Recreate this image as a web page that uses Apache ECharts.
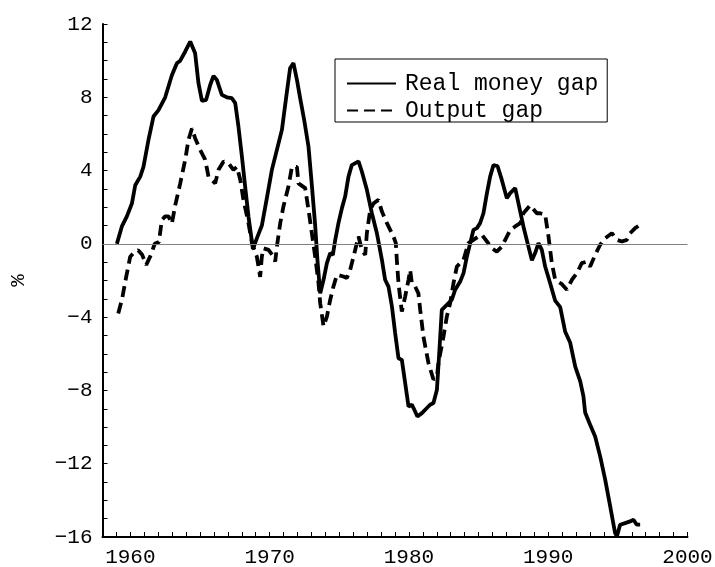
<!DOCTYPE html>
<html>
<head>
<meta charset="utf-8">
<script src="https://cdn.jsdelivr.net/npm/echarts@6/dist/echarts.min.js"></script>
<style>
html,body{margin:0;padding:0;background:#fff;}
#chart{width:715px;height:567px;}
</style>
</head>
<body>
<div id="chart"></div>
<script>
// ---- data (year, percent) ----
const seriesNames = ['Real money gap', 'Output gap'];
const yTickValues = [-16, -12, -8, -4, 0, 4, 8, 12];
const xTickLabels = [1960, 1970, 1980, 1990, 2000];

const realMoneyYears = [1959.03,1959.39,1959.75,1960.11,1960.35,1960.71,1960.94,1961.30,1961.66,1962.02,1962.50,1962.98,1963.34,1963.58,1963.94,1964.30,1964.65,1964.89,1965.14,1965.44,1965.73,1965.97,1966.21,1966.57,1966.93,1967.29,1967.53,1967.76,1968.01,1968.24,1968.48,1968.80,1969.08,1969.44,1969.80,1970.16,1970.52,1970.88,1971.24,1971.47,1971.71,1971.96,1972.19,1972.48,1972.79,1973.03,1973.27,1973.43,1973.63,1973.87,1974.11,1974.35,1974.54,1974.71,1974.94,1975.19,1975.42,1975.66,1975.90,1976.38,1976.62,1976.98,1977.34,1977.70,1978.06,1978.29,1978.53,1978.78,1979.01,1979.25,1979.49,1979.73,1979.97,1980.21,1980.33,1980.61,1980.93,1981.29,1981.52,1981.76,1982.01,1982.19,1982.36,1982.72,1983.08,1983.32,1983.68,1983.92,1984.16,1984.40,1984.63,1984.88,1985.11,1985.35,1985.60,1985.83,1986.07,1986.36,1986.67,1987.03,1987.27,1987.63,1987.86,1988.22,1988.58,1988.83,1989.06,1989.30,1989.54,1989.78,1990.14,1990.50,1990.86,1991.22,1991.58,1991.94,1992.30,1992.53,1992.65,1993.01,1993.37,1993.73,1994.09,1994.45,1994.80,1994.93,1995.16,1995.52,1995.88,1996.12,1996.36,1996.60];
const realMoneyValues = [0.0,0.95,1.5,2.2,3.2,3.67,4.2,5.67,6.95,7.3,8.0,9.2,9.86,10.0,10.5,11.04,10.4,8.77,7.8,7.86,8.67,9.17,8.95,8.13,8.0,7.95,7.68,6.4,4.76,3.13,1.49,-0.28,0.3,1.0,2.5,4.04,5.13,6.22,8.3,9.6,9.86,8.95,7.95,6.76,5.3,3.2,1.0,-0.87,-2.7,-1.96,-1.05,-0.5,-0.6,0.22,1.13,1.95,2.58,3.67,4.3,4.5,3.95,2.95,1.67,0.58,-0.87,-1.96,-2.33,-3.42,-4.87,-6.24,-6.33,-7.6,-8.88,-8.78,-8.96,-9.42,-9.24,-8.96,-8.78,-8.69,-7.96,-5.78,-3.6,-3.33,-3.05,-2.5,-2.06,-1.6,-0.7,0.04,0.76,0.86,1.13,1.67,2.77,3.67,4.3,4.25,3.49,2.49,2.77,3.04,2.22,0.95,-0.15,-0.9,-0.5,0.04,-0.33,-1.24,-2.15,-3.1,-3.45,-4.8,-5.4,-6.7,-7.5,-8.33,-9.2,-9.87,-10.51,-11.6,-12.87,-14.33,-15.78,-15.97,-15.33,-15.24,-15.15,-15.06,-15.33,-15.33];

const outputYears = [1959.13,1959.41,1959.70,1959.99,1960.28,1960.56,1960.85,1961.14,1961.42,1961.75,1962.05,1962.26,1962.50,1962.74,1962.98,1963.22,1963.58,1963.94,1964.17,1964.42,1964.65,1965.01,1965.37,1965.61,1966.09,1966.33,1966.69,1967.05,1967.40,1967.65,1967.89,1968.12,1968.48,1968.73,1969.08,1969.32,1969.44,1969.56,1969.92,1970.28,1970.40,1970.52,1970.76,1970.99,1971.35,1971.60,1971.96,1972.07,1972.55,1972.79,1973.03,1973.27,1973.51,1973.63,1973.87,1974.11,1974.35,1974.58,1974.83,1975.30,1975.54,1975.78,1976.02,1976.38,1976.62,1976.86,1976.98,1977.22,1977.45,1977.81,1978.06,1978.42,1978.89,1979.06,1979.13,1979.25,1979.49,1979.73,1979.97,1980.09,1980.21,1980.45,1980.68,1980.81,1981.04,1981.40,1981.76,1982.01,1982.12,1982.48,1982.72,1982.96,1983.20,1983.44,1983.92,1984.27,1984.63,1984.99,1985.24,1985.60,1985.95,1986.31,1986.67,1987.03,1987.27,1987.63,1987.99,1988.22,1988.70,1989.18,1989.42,1989.78,1990.02,1990.26,1990.50,1990.98,1991.34,1991.70,1992.06,1992.41,1992.77,1993.01,1993.37,1993.73,1994.09,1994.57,1994.93,1995.29,1995.64,1995.88,1996.24,1996.60];
const outputValues = [-3.8,-3.0,-1.8,-0.7,-0.45,-0.35,-0.6,-1.15,-0.7,0.0,0.1,1.3,1.5,1.5,1.1,2.1,3.3,4.6,5.67,6.3,5.77,5.13,4.6,3.67,3.3,4.04,4.5,4.4,4.04,4.2,3.5,2.4,1.13,0.05,-0.7,-1.8,-0.7,-0.24,-0.33,-0.7,-0.97,-0.15,1.13,2.04,3.13,4.2,4.2,3.3,3.04,1.86,0.58,-0.7,-2.15,-3.24,-4.5,-3.97,-3.05,-2.33,-1.69,-1.78,-1.87,-1.42,-0.7,0.4,-0.33,-0.6,0.58,1.86,2.2,2.4,1.76,1.13,0.4,0.04,-0.87,-2.15,-3.7,-2.88,-1.96,-1.42,-2.15,-2.33,-2.7,-3.6,-5.06,-6.5,-7.4,-7.24,-6.5,-5.06,-3.97,-3.24,-2.15,-1.24,-0.87,0.04,0.22,0.4,0.49,0.13,-0.24,-0.42,-0.15,0.4,0.76,0.95,1.13,1.67,2.1,1.67,1.67,1.6,0.4,-1.05,-1.96,-2.2,-2.5,-1.96,-1.6,-1.05,-0.97,-1.24,-0.6,-0.05,0.31,0.58,0.22,0.13,0.22,0.58,0.86,1.04];

const pair = (xs, ys) => xs.map((x, i) => [x, ys[i]]);
const FONT = 'Liberation Mono';

const chart = echarts.init(document.getElementById('chart'), null, {renderer: 'canvas'});
chart.setOption({
  animation: false,
  backgroundColor: '#fff',
  grid: {left: 102.5, right: 27.5, top: 24, bottom: 30, outerBoundsMode: 'none'},
  legend: {
    data: seriesNames,
    orient: 'vertical',
    left: 335, top: 59,
    padding: [13, 9, 0, 11],
    itemWidth: 49, itemHeight: 14, itemGap: 4,
    borderColor: '#000', borderWidth: 1,
    itemStyle: {opacity: 0},
    textStyle: {fontFamily: FONT, fontSize: 23, color: '#000', padding: [0, 0, 0, 4]}
  },
  xAxis: {
    type: 'value', min: 1958, max: 2000, interval: 2,
    axisLine: {show: true, onZero: false, lineStyle: {color: '#000', width: 2}},
    axisTick: {show: true, inside: true, length: 5, lineStyle: {color: '#000', width: 1}},
    minorTick: {show: true, splitNumber: 2, length: 5, lineStyle: {color: '#000', width: 1}},
    splitLine: {show: false},
    axisLabel: {
      fontFamily: FONT, fontSize: 21, color: '#000', margin: 10,
      formatter: v => xTickLabels.indexOf(v) >= 0 ? String(v) : ''
    }
  },
  yAxis: {
    type: 'value', min: -16, max: 12, interval: 4,
    name: '%', nameLocation: 'middle', nameRotate: 90, nameGap: 74,
    nameTextStyle: {fontFamily: FONT, fontSize: 21, color: '#000'},
    axisLine: {show: true, onZero: false, lineStyle: {color: '#000', width: 2}},
    axisTick: {show: true, inside: true, length: 5, lineStyle: {color: '#000', width: 1}},
    minorTick: {show: true, splitNumber: 4, length: 5, lineStyle: {color: '#000', width: 1}},
    splitLine: {show: false},
    axisLabel: {
      fontFamily: FONT, fontSize: 21, color: '#000', margin: 10,
      formatter: v => yTickValues.indexOf(v) >= 0 ? String(v).replace('-', '\u2212') : ''
    }
  },
  series: [
    {
      name: 'zero', type: 'line', data: [], z: 1, silent: true,
      markLine: {
        silent: true, symbol: ['none', 'none'], label: {show: false},
        lineStyle: {color: '#808080', width: 1.2, type: 'solid'},
        data: [{yAxis: 0}]
      }
    },
    {
      name: seriesNames[0], type: 'line', data: pair(realMoneyYears, realMoneyValues),
      symbol: 'none', showSymbol: false, z: 3,
      itemStyle: {color: '#000'},
      lineStyle: {color: '#000', width: 3.8, type: 'solid'}
    },
    {
      name: seriesNames[1], type: 'line', data: pair(outputYears, outputValues),
      symbol: 'none', showSymbol: false, z: 3,
      itemStyle: {color: '#000'},
      lineStyle: {color: '#000', width: 3.8, type: [11, 6]}
    }
  ]
});
</script>
</body>
</html>
